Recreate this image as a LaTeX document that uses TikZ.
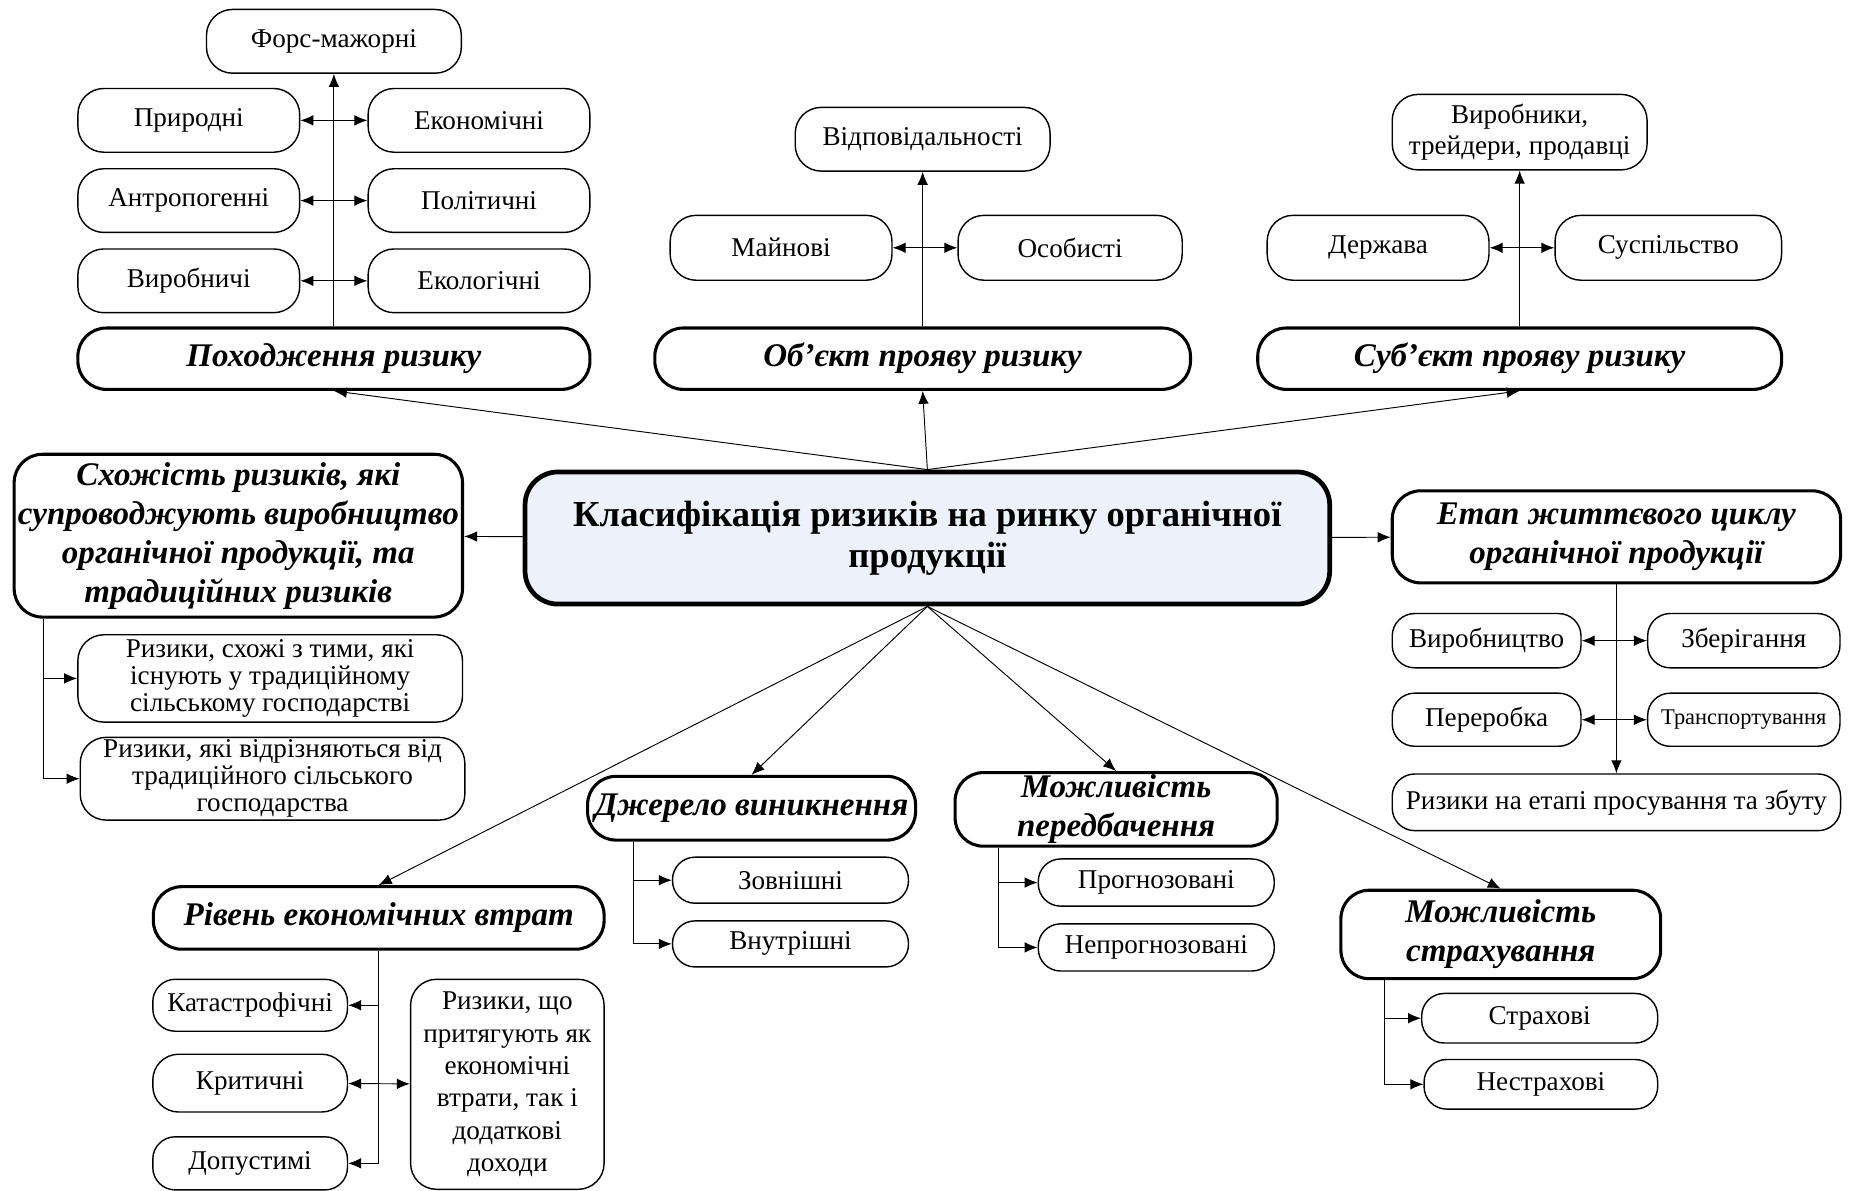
\documentclass[tikz,border=0pt]{standalone}
\usepackage{fontspec}
\setmainfont{Liberation Serif}
\usetikzlibrary{arrows.meta}
\definecolor{titlefill}{RGB}{236,241,250}

\begin{document}
\begin{tikzpicture}[>={Latex[length=5.5pt,width=4.5pt]}, x=0.5pt, y=-0.5pt,
  leaf/.style={draw, rounded corners=11pt, align=center, inner sep=1pt, line width=0.6pt, font=\fontsize{11.5}{13}\selectfont},
  small/.style={leaf, rounded corners=9.5pt},
  head/.style={leaf, rounded corners=12pt, line width=1.3pt, font=\bfseries\itshape\fontsize{14}{16.5}\selectfont}]
  \useasboundingbox (0,0) rectangle (1568,1009);
  % centre
  \node[draw, fill=titlefill, line width=2pt, rounded corners=14pt, align=center, minimum width=341pt, minimum height=56pt, font=\bfseries\fontsize{15.5}{17.5}\selectfont] (cls) at (786,456) {Класифікація ризиків на ринку органічної\\продукції};
  % origin of risk
  \node[head, minimum width=217pt, minimum height=26pt] (orig) at (283,304) {Походження ризику};
  \node[leaf, minimum width=108pt, minimum height=27pt] (force) at (283,35) {Форс-мажорні};
  \draw[->] (orig) -- (force);
  \foreach \y/\l/\r/\n in {102/Природні/Економічні/1, 170/Антропогенні/Політичні/2, 238/Виробничі/Екологічні/3} {
    \node[leaf, minimum width=94pt, minimum height=27pt] (ol\n) at (160,\y) {\l};
    \node[leaf, minimum width=94pt, minimum height=27pt] (or\n) at (406,\y) {\r};
    \draw[<->] (ol\n) -- (or\n);
  }
  % object
  \node[head, minimum width=227pt, minimum height=26pt] (obj) at (782,304) {Об’єкт прояву ризику};
  \node[leaf, minimum width=108pt, minimum height=27pt] (resp) at (782,118) {Відповідальності};
  \node[leaf, minimum width=94pt, minimum height=27.5pt] (prop) at (662,210) {Майнові};
  \node[leaf, minimum width=95pt, minimum height=27.5pt] (pers) at (907,210) {Особисті};
  \draw[->] (obj) -- (resp);
  \draw[<->] (prop) -- (pers);
  % subject
  \node[head, minimum width=222pt, minimum height=26pt] (subj) at (1288,304) {Суб’єкт прояву ризику};
  \node[leaf, minimum width=108pt, minimum height=32pt] (trad) at (1288,112) {Виробники,\\трейдери, продавці};
  \node[leaf, minimum width=94pt, minimum height=27.5pt] (state) at (1168,210) {Держава};
  \node[leaf, minimum width=96pt, minimum height=27.5pt] (soc) at (1414,210) {Суспільство};
  \draw[->] (subj) -- (trad);
  \draw[<->] (state) -- (soc);
  % similarity
  \node[head, minimum width=190pt, minimum height=69pt] (sim) at (202,454) {Схожість ризиків, які\\супроводжують виробництво\\органічної продукції, та\\традиційних ризиків};
  \node[leaf, minimum width=163pt, minimum height=37pt, font=\fontsize{11.5}{11.5}\selectfont] (sim1) at (229,575) {Ризики, схожі з тими, які\\існують у традиційному\\сільському господарстві};
  \node[leaf, minimum width=163pt, minimum height=34pt, font=\fontsize{11.5}{11.5}\selectfont] (sim2) at (231,660) {Ризики, які відрізняються від\\традиційного сільського\\господарства};
  \draw[->] ([xshift=13pt]sim.south west) |- (sim1);
  \draw[->] ([xshift=13pt]sim.south west) |- (sim2);
  % life cycle
  \node[head, minimum width=190pt, minimum height=39pt] (life) at (1370,455) {Етап життєвого циклу\\органічної продукції};
  \node[small, minimum width=80pt, minimum height=23pt] (prod) at (1260,543) {Виробництво};
  \node[small, minimum width=81.5pt, minimum height=23pt] (store) at (1478,543) {Зберігання};
  \node[small, minimum width=80pt, minimum height=22.5pt] (proc) at (1260,610) {Переробка};
  \node[small, minimum width=81.5pt, minimum height=22.5pt, font=\fontsize{9.5}{11}\selectfont] (trans) at (1478,610) {Транспортування};
  \node[small, minimum width=190pt, minimum height=24pt] (sale) at (1370,680) {Ризики на етапі просування та збуту};
  \draw[->] (life) -- (sale);
  \draw[<->] (prod) -- (store);
  \draw[<->] (proc) -- (trans);
  % source
  \node[head, minimum width=139pt, minimum height=27pt] (src) at (637,685) {Джерело виникнення};
  \node[small, minimum width=100pt, minimum height=19.5pt] (ext) at (670,746) {Зовнішні};
  \node[small, minimum width=100pt, minimum height=19.5pt] (int) at (670,800) {Внутрішні};
  \draw[->] ([xshift=20pt]src.south west) |- (ext);
  \draw[->] ([xshift=20pt]src.south west) |- (int);
  % forecast
  \node[head, minimum width=136.5pt, minimum height=31pt] (fore) at (946,686) {Можливість\\передбачення};
  \node[small, minimum width=100pt, minimum height=20pt] (pred) at (980,748) {Прогнозовані};
  \node[small, minimum width=100pt, minimum height=20pt] (unpred) at (980,803) {Непрогнозовані};
  \draw[->] ([xshift=19pt]fore.south west) |- (pred);
  \draw[->] ([xshift=19pt]fore.south west) |- (unpred);
  % losses
  \node[head, minimum width=191pt, minimum height=26.5pt] (loss) at (321,778) {Рівень економічних втрат};
  \node[small, minimum width=82.5pt, minimum height=22pt] (cat) at (212,852) {Катастрофічні};
  \node[leaf, minimum width=82.5pt, minimum height=24.5pt] (crit) at (212,918) {Критичні};
  \node[small, minimum width=82.5pt, minimum height=22.5pt] (adm) at (212,986) {Допустимі};
  \node[leaf, minimum width=82pt, minimum height=89pt, font=\fontsize{11.5}{13.7}\selectfont] (dual) at (430,919) {Ризики, що\\притягують як\\економічні\\втрати, так і\\додаткові\\доходи};
  \draw[->] (loss) |- (cat);
  \draw[->] (loss) |- (adm);
  \draw[<->] (crit) -- (dual);
  % insurance
  \node[head, minimum width=135.5pt, minimum height=37.5pt] (ins) at (1272,792) {Можливість\\страхування};
  \node[small, minimum width=100pt, minimum height=21pt] (insd) at (1305,863) {Страхові};
  \node[small, minimum width=99pt, minimum height=21pt] (uninsd) at (1306,919) {Нестрахові};
  \draw[->] ([xshift=19pt]ins.south west) |- (insd);
  \draw[->] ([xshift=19pt]ins.south west) |- (uninsd);
  % branches from the centre
  \draw[->] (cls.north) -- (orig.south);
  \draw[->] (cls.north) -- (obj.south);
  \draw[->] (cls.north) -- (subj.south);
  \draw[->] (cls) -- (sim);
  \draw[->] (cls) -- (life);
  \draw[->] (cls.south) -- (loss.north);
  \draw[->] (cls.south) -- (src.north);
  \draw[->] (cls.south) -- (fore.north);
  \draw[->] (cls.south) -- (ins.north);
\end{tikzpicture}
\end{document}
